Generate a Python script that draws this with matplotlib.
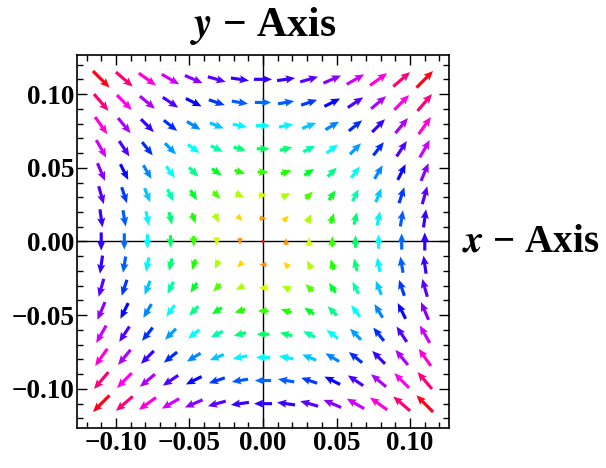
import numpy as np
import matplotlib.pyplot as plt
from matplotlib.colors import Normalize
from matplotlib.ticker import FixedLocator, MultipleLocator, FuncFormatter

plt.rcParams['font.family'] = ['Liberation Serif', 'DejaVu Serif']
plt.rcParams['mathtext.fontset'] = 'stix'

# grid of sample points (15 x 15)
grid_x = [-0.11, -0.0943, -0.0786, -0.0629, -0.0471, -0.0314, -0.0157, 0.0,
          0.0157, 0.0314, 0.0471, 0.0629, 0.0786, 0.0943, 0.11]
grid_y = [-0.11, -0.0943, -0.0786, -0.0629, -0.0471, -0.0314, -0.0157, 0.0,
          0.0157, 0.0314, 0.0471, 0.0629, 0.0786, 0.0943, 0.11]
major_ticks = [-0.10, -0.05, 0.00, 0.05, 0.10]


def field(x, y):
    # plotted vector field F(x, y) = (y, x)
    return y, x


X, Y = np.meshgrid(grid_x, grid_y)
u, v = field(X, Y)
mag = np.hypot(u, v)

# arrow length grows with the magnitude (as in the picture)
length = 0.0035 + 0.08 * mag
safe = np.where(mag > 0, mag, 1)
U = np.where(mag > 0, u / safe * length, 0)
V = np.where(mag > 0, v / safe * length, 0)

fig = plt.figure(figsize=(6.06, 4.68), dpi=100)
ax = fig.add_axes([0.127, 0.0855, 0.614, 0.797])

ax.axhline(0, color='black', lw=1.0, zorder=1)
ax.axvline(0, color='black', lw=1.0, zorder=1)

ax.quiver(X, Y, U, V, mag, cmap='hsv', norm=Normalize(0, mag.max()),
          angles='xy', scale_units='xy', scale=1, pivot='middle',
          width=0.0085, headwidth=2.6, headlength=3.0, headaxislength=2.6,
          zorder=2)

lim = 0.1265
ax.set_xlim(-lim, lim)
ax.set_ylim(-lim, lim)

fmt = FuncFormatter(lambda v, p: ('%.2f' % (0 if abs(v) < 1e-9 else v)).replace('-', '\u2212'))
for axis in (ax.xaxis, ax.yaxis):
    axis.set_major_locator(FixedLocator(major_ticks))
    axis.set_minor_locator(MultipleLocator(0.01))
    axis.set_major_formatter(fmt)

ax.tick_params(which='both', direction='in', top=True, right=True, width=1.0)
ax.tick_params(which='major', length=7, labelsize=19.5, pad=2)
ax.tick_params(which='minor', length=4)
for lab in ax.get_xticklabels() + ax.get_yticklabels():
    lab.set_fontweight('bold')
for s in ax.spines.values():
    s.set_linewidth(1.2)

fig.text(0.434, 0.945, r'$\mathbfit{y}$ − Axis', ha='center', va='center',
         fontsize=30, fontweight='bold')
fig.text(0.762, 0.483, r'$\mathbfit{x}$ − Axis', ha='left', va='center',
         fontsize=28, fontweight='bold')

plt.savefig('out.png', dpi=100)
